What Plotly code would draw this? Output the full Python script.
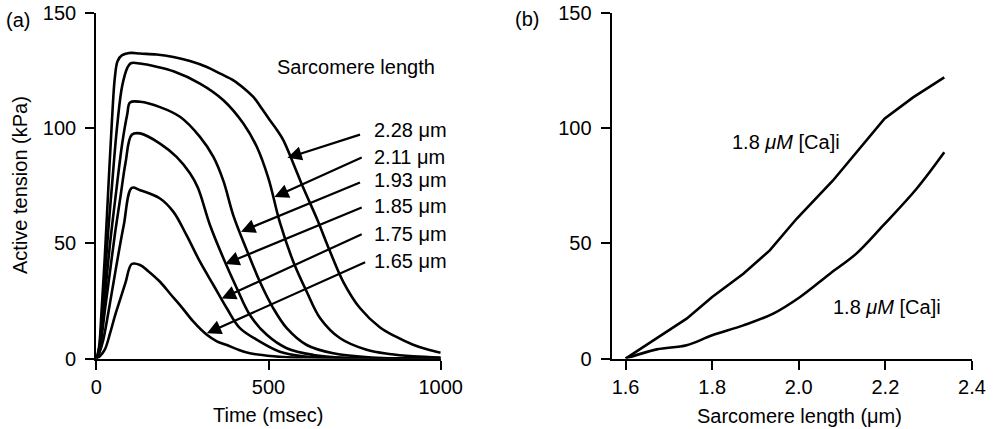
import plotly.graph_objects as go
from plotly.subplots import make_subplots

# Panel (a): active tension vs time, one series per sarcomere length
t_228 = [0, 8, 15, 25, 35, 45, 54, 62, 75, 100, 127, 175, 224, 272, 321, 360, 398, 430, 456, 480, 504, 525, 543, 572, 601, 640, 679, 717, 766, 824, 870, 920, 960, 1000]
v_228 = [0, 5, 20, 45, 74, 102, 122, 129, 131.5, 132.5, 132.2, 131.8, 130.7, 129, 126.4, 123.5, 120.6, 117, 113.4, 108.5, 103.3, 99, 94.7, 84.6, 74, 60.8, 46.3, 33.3, 21.8, 13.5, 9.5, 6, 4, 2.5]

t_211 = [0, 8, 15, 25, 35, 45, 60, 75, 90, 100, 127, 175, 224, 301, 369, 427, 466, 500, 533, 572, 611, 650, 708, 785, 850, 920, 1000]
v_211 = [0, 4, 15, 36, 56, 74, 100, 118, 126, 128, 127.9, 126.5, 124.5, 119.2, 112, 101.9, 91.8, 78, 59, 42, 29, 17.5, 8.8, 3.8, 2, 1, 0.5]

t_193 = [0, 8, 15, 25, 40, 59, 75, 90, 98, 127, 185, 243, 301, 340, 369, 398, 437, 475, 514, 553, 611, 688, 800, 1000]
v_193 = [0, 3, 11, 27, 50, 74, 93, 106, 111, 111.3, 109, 104.8, 96.1, 87.4, 77, 62, 47, 33.3, 21.8, 13.2, 5.9, 2.3, 0.5, 0]

t_185 = [0, 8, 15, 25, 40, 55, 70, 85, 103, 127, 185, 233, 272, 295, 330, 369, 408, 446, 495, 553, 630, 720, 1000]
v_185 = [0, 3, 9, 21, 38, 55, 70, 85, 97, 97.6, 93.2, 87.4, 80.3, 74, 57.9, 43.5, 30.5, 18.9, 10.3, 4.5, 1.6, 0.4, 0]

t_175 = [0, 10, 20, 35, 50, 65, 80, 103, 127, 185, 224, 262, 301, 340, 379, 417, 475, 533, 600, 700, 1000]
v_175 = [0, 3, 8, 20, 33, 46, 58, 74, 73, 69.4, 63.6, 53.5, 42, 31.9, 21.8, 13.2, 7.4, 3, 1, 0.3, 0]

t_165 = [0, 10, 25, 40, 55, 70, 85, 103, 127, 150, 185, 215, 243, 282, 321, 350, 379, 410, 446, 514, 600, 1000]
v_165 = [0, 1, 4, 11, 19, 26, 33, 41, 40.6, 38, 33.3, 28, 23.2, 16, 10.3, 7.5, 5.9, 4, 2.3, 1, 0.3, 0]

curves_a = [(t_228, v_228), (t_211, v_211), (t_193, v_193),
            (t_185, v_185), (t_175, v_175), (t_165, v_165)]

# labels and arrow tail/head positions (data coords)
len_labels = ["2.28 μm", "2.11 μm", "1.93 μm", "1.85 μm", "1.75 μm", "1.65 μm"]
arrow_tail_t = [770, 775, 770, 775, 775, 785]
arrow_tail_v = [97.3, 87.4, 76.6, 65.8, 54.2, 42.0]
arrow_head_t = [555, 517, 420, 374, 364, 321]
arrow_head_v = [87, 70, 55, 41, 26, 11]
label_v = [99, 87.5, 77.5, 66, 54, 42.5]

# Panel (b): active tension vs sarcomere length
sl_upper = [1.6, 1.672, 1.741, 1.8, 1.872, 1.933, 1.995, 2.079, 2.157, 2.198, 2.264, 2.336]
tn_upper = [0, 8.7, 17.3, 26.7, 36.8, 46.9, 60.6, 77.2, 95, 104, 113.2, 121.9]
sl_lower = [1.6, 1.672, 1.741, 1.8, 1.872, 1.941, 2.003, 2.072, 2.133, 2.195, 2.272, 2.336]
tn_lower = [0, 4.0, 5.8, 10.1, 14.4, 19.5, 26.7, 36.8, 45.5, 57.7, 73.6, 89.4]

FONT = "Liberation Sans, Arial, Helvetica, sans-serif"
FS = 20
W, H = 997, 429

fig = make_subplots(rows=1, cols=2)

for t, v in curves_a:
    fig.add_trace(go.Scatter(x=t, y=v, mode='lines', line=dict(color='black', width=2.6),
                             line_shape='spline', showlegend=False), row=1, col=1)

fig.add_trace(go.Scatter(x=sl_upper, y=tn_upper, mode='lines', line=dict(color='black', width=2.6),
                         showlegend=False), row=1, col=2)
fig.add_trace(go.Scatter(x=sl_lower, y=tn_lower, mode='lines', line=dict(color='black', width=2.6),
                         line_shape='spline', showlegend=False), row=1, col=2)

ax_style = dict(showline=True, linecolor='black', linewidth=2.2, ticks='outside', ticklen=9,
                tickwidth=2, tickcolor='black', showgrid=False, zeroline=False, automargin=False,
                tickfont=dict(family=FONT, size=FS, color='black'))

fig.update_xaxes(ax_style)
fig.update_yaxes(ax_style, ticklabelstandoff=5)

fig.update_xaxes(domain=[96.3 / W, 440.7 / W], range=[0, 1000], tickvals=[0, 500, 1000], row=1, col=1)
fig.update_xaxes(domain=[611.7 / W, 972 / W], range=[1.568, 2.4], tickvals=[1.6, 1.8, 2.0, 2.2, 2.4],
                 ticktext=["1.6", "1.8", "2.0", "2.2", "2.4"], row=1, col=2)
fig.update_yaxes(domain=[1 - 358.6 / H, 1 - 12.5 / H], range=[0, 150], tickvals=[0, 50, 100, 150])

def txt(s, x, y, xref='paper', yref='paper', xanchor='center', angle=0):
    return dict(x=x, y=y, xref=xref, yref=yref, text=s, showarrow=False, textangle=angle,
                xanchor=xanchor, yanchor='middle',
                font=dict(family=FONT, size=FS, color='black'))

annotations = []
for lab, tx, tv, hx, hv, lv in zip(len_labels, arrow_tail_t, arrow_tail_v,
                                   arrow_head_t, arrow_head_v, label_v):
    annotations.append(dict(x=hx, y=hv, ax=tx, ay=tv, xref='x', yref='y', axref='x', ayref='y',
                            text='', showarrow=True, arrowhead=2, arrowsize=1.3,
                            arrowwidth=2.2, arrowcolor='black', standoff=0))
    annotations.append(txt(lab, 800, lv, 'x', 'y', 'left'))

annotations.append(txt("Sarcomere length", 518, 126.5, 'x', 'y', 'left'))
annotations.append(txt("1.8 <i>μM</i> [Ca]i", 1.97, 94, 'x2', 'y2'))
annotations.append(txt("1.8 <i>μM</i> [Ca]i", 2.203, 22.3, 'x2', 'y2'))
# axis titles and panel letters
annotations.append(txt("Time (msec)", 268 / W, 1 - 415 / H))
annotations.append(txt("Sarcomere length (μm)", 799 / W, 1 - 416 / H))
annotations.append(txt("Active tension (kPa)", 20 / W, 1 - 185 / H, angle=-90))
annotations.append(txt("(a)", 4 / W, 1 - 20 / H, xanchor='left'))
annotations.append(txt("(b)", 513 / W, 1 - 19 / H, xanchor='left'))

fig.update_layout(width=W, height=H, margin=dict(l=0, r=0, t=0, b=0),
                  paper_bgcolor='white', plot_bgcolor='white',
                  annotations=annotations, showlegend=False)

# drop the default page margin so the figure sits at the window origin
fig.write_html("out.html", config={'displayModeBar': False},
               post_script="document.body.style.margin='0';")
